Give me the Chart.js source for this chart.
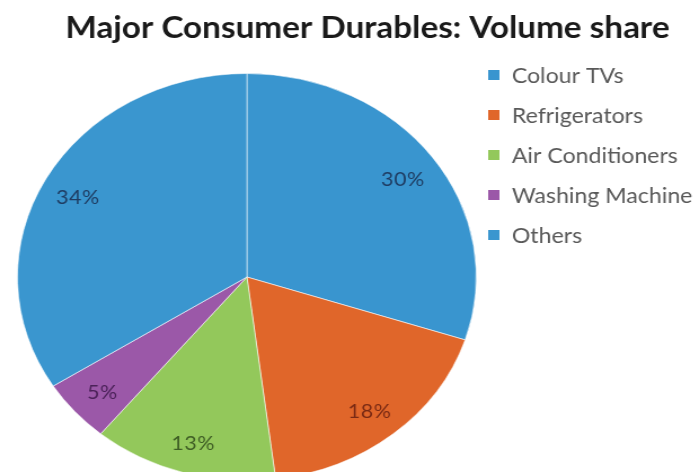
<!DOCTYPE html>
<html>
<head>
<meta charset="utf-8">
<script src="https://cdn.jsdelivr.net/npm/chart.js@4.4.1/dist/chart.umd.min.js"></script>
<style>
  html, body { margin: 0; padding: 0; background: #fff; }
  body { width: 699px; height: 472px; overflow: hidden; }
  /* the reference is stretched sideways, so draw narrower and stretch */
  #wrap { width: 620px; height: 510px; transform: scaleX(1.1274); transform-origin: 0 0; }
</style>
</head>
<body>
<div id="wrap"><canvas id="chart"></canvas></div>
<script>
const titleText = 'Major Consumer Durables: Volume share';
const categories = ['Colour TVs', 'Refrigerators', 'Air Conditioners', 'Washing Machine', 'Others'];
const shares = [30, 18, 13, 5, 34];

const sliceColors = ['#3995cf', '#e0662a', '#93c85b', '#9b58a8', '#3a96cf'];
const labelColors = ['#1f3d63', '#7a2a14', '#3f5e25', '#4b2259', '#1f3d63'];
const fontFamily = 'Lato, "Open Sans", sans-serif';

// percentage labels inside the slices
const sliceLabels = {
  id: 'sliceLabels',
  afterDatasetsDraw(chart) {
    const ctx = chart.ctx;
    const meta = chart.getDatasetMeta(0);
    ctx.save();
    ctx.font = '19px ' + fontFamily;
    ctx.letterSpacing = '0.5px';
    ctx.textAlign = 'center';
    ctx.textBaseline = 'middle';
    meta.data.forEach((arc, i) => {
      const p = arc.getProps(['x', 'y', 'startAngle', 'endAngle', 'outerRadius'], true);
      const mid = (p.startAngle + p.endAngle) / 2;
      const r = p.outerRadius * 0.84;
      ctx.fillStyle = labelColors[i];
      ctx.fillText(shares[i] + '%', p.x + Math.cos(mid) * r, p.y + Math.sin(mid) * r + 3);
    });
    ctx.restore();
  }
};

// title and legend sit off-centre from the pie, so draw them here
const sideTexts = {
  id: 'sideTexts',
  afterDraw(chart) {
    const ctx = chart.ctx;
    ctx.save();
    ctx.fillStyle = '#1a1a1a';
    ctx.font = 'bold 29.5px ' + fontFamily;
    ctx.textAlign = 'center';
    ctx.textBaseline = 'alphabetic';
    ctx.fillText(titleText, 326, 38);

    ctx.font = '20.5px ' + fontFamily;
    ctx.textAlign = 'left';
    ctx.textBaseline = 'middle';
    categories.forEach((name, i) => {
      const y = 75 + i * 40;
      ctx.fillStyle = sliceColors[i];
      ctx.fillRect(433, y - 5, 10, 10);
      ctx.fillStyle = '#595959';
      ctx.fillText(name, 454, y + 1);
    });
    ctx.restore();
  }
};

new Chart(document.getElementById('chart'), {
  type: 'pie',
  data: {
    labels: categories,
    datasets: [{
      data: shares,
      backgroundColor: sliceColors,
      borderColor: 'rgba(255,255,255,0.55)',
      borderWidth: 1
    }]
  },
  options: {
    responsive: true,
    maintainAspectRatio: false,
    animation: false,
    devicePixelRatio: 1,
    layout: {
      padding: {left: 15, right: 197, top: 73, bottom: 29}
    },
    plugins: {
      legend: {display: false},
      title: {display: false},
      tooltip: {enabled: false}
    }
  },
  plugins: [sliceLabels, sideTexts]
});
</script>
</body>
</html>
